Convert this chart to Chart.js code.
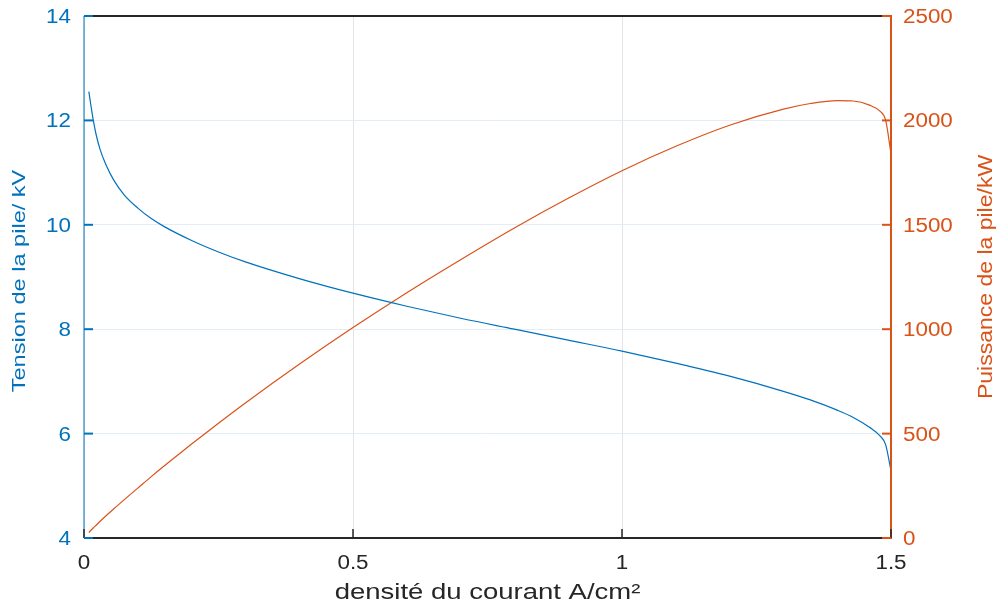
<!DOCTYPE html>
<html>
<head>
<meta charset="utf-8">
<script src="https://cdn.jsdelivr.net/npm/chart.js@4.4.0/dist/chart.umd.min.js"></script>
<style>
  body { margin: 0; background: #fff; }
  canvas { display: block; }
</style>
</head>
<body>
<canvas id="pileChart" width="996" height="605"></canvas>
<script>
// Values
const currentDensity = [0.009, 0.0125, 0.0175, 0.0225, 0.03, 0.04, 0.055, 0.075, 0.1, 0.125, 0.15,
    0.2, 0.25, 0.3, 0.4, 0.5, 0.6, 0.7, 0.8, 0.9, 1.0, 1.1, 1.2, 1.3, 1.35, 1.4, 1.43,
    1.46, 1.48, 1.49, 1.5];
const voltageKV = [12.55, 12.31, 11.99, 11.73, 11.44, 11.17, 10.86, 10.57, 10.32, 10.12, 9.96,
    9.70, 9.48, 9.29, 8.97, 8.69, 8.44, 8.21, 8.00, 7.79, 7.58, 7.35, 7.10, 6.81, 6.645, 6.45, 6.31,
    6.12, 5.95, 5.79, 5.29];
const powerKW = [26, 36, 49, 61, 80, 104, 139, 184, 239, 294, 347,
    450, 550, 647, 832, 1008, 1175, 1333, 1485, 1627, 1759, 1876, 1977, 2054, 2081, 2095, 2093,
    2073, 2043, 2001, 1841];

const xTitle = 'densité du courant A/cm²';
const leftTitle = 'Tension de la pile/ kV';
const rightTitle = 'Puissance de la pile/kW';

const BLUE = '#0072BD';
const ORANGE = '#D95319';
const DARK = '#262626';
const FONT = '"Liberation Sans", Arial, Helvetica, sans-serif';

// draw a text stretched along its own direction
function drawText(ctx, text, x, y, size, color, align, baseline, rot, sx) {
    ctx.save();
    ctx.translate(x, y);
    ctx.rotate(rot);
    ctx.scale(sx, 1);
    ctx.font = size + 'px ' + FONT;
    ctx.fillStyle = color;
    ctx.textAlign = align;
    ctx.textBaseline = baseline;
    ctx.fillText(text, 0, 0);
    ctx.restore();
}

function line(ctx, x1, y1, x2, y2, color, width) {
    ctx.beginPath();
    ctx.strokeStyle = color;
    ctx.lineWidth = width;
    ctx.moveTo(x1, y1);
    ctx.lineTo(x2, y2);
    ctx.stroke();
}

// Matlab-like box, inward ticks, labels and titles
const matlabFrame = {
    id: 'matlabFrame',
    afterDatasetsDraw(chart) {
        const ctx = chart.ctx;
        const a = chart.chartArea;
        const sx = chart.scales.x, sy = chart.scales.y, sy1 = chart.scales.y1;
        const tickLen = 9;

        line(ctx, a.left, a.top, a.right, a.top, DARK, 2);
        line(ctx, a.left, a.bottom, a.right, a.bottom, DARK, 2);
        line(ctx, a.left, a.top, a.left, a.bottom, BLUE, 1);
        line(ctx, a.right, a.top - 1, a.right, a.bottom + 1, ORANGE, 2);

        sx.ticks.forEach(t => {
            const px = sx.getPixelForValue(t.value);
            line(ctx, px, a.bottom, px, a.bottom - tickLen, DARK, 1.5);
            drawText(ctx, String(t.value), px, 569, 20, DARK, 'center', 'alphabetic', 0, 1.12);
        });
        sy.ticks.forEach(t => {
            const py = sy.getPixelForValue(t.value);
            line(ctx, a.left, py, a.left + tickLen, py, BLUE, 2);
            drawText(ctx, String(t.value), 71, py + 1.5, 20, BLUE, 'right', 'middle', 0, 1.12);
        });
        sy1.ticks.forEach(t => {
            const py = sy1.getPixelForValue(t.value);
            line(ctx, a.right - tickLen, py, a.right, py, ORANGE, 2);
            drawText(ctx, String(t.value), 903, py + 1.5, 20, ORANGE, 'left', 'middle', 0, 1.12);
        });

        drawText(ctx, xTitle, (a.left + a.right) / 2, 599, 22, DARK, 'center', 'alphabetic', 0, 1.25);
        drawText(ctx, leftTitle, 25, 281, 19, BLUE, 'center', 'alphabetic', -Math.PI / 2, 1.24);
        drawText(ctx, rightTitle, 992, 277, 20, ORANGE, 'center', 'alphabetic', -Math.PI / 2, 1.15);
    }
};

const chartConfig = {
    type: 'line',
    data: {
        labels: currentDensity,
        datasets: [
            {
                label: 'Tension',
                data: currentDensity.map((x, i) => ({ x: x, y: voltageKV[i] })),
                borderColor: BLUE,
                borderWidth: 1.2,
                pointRadius: 0,
                cubicInterpolationMode: 'monotone',
                yAxisID: 'y'
            },
            {
                label: 'Puissance',
                data: currentDensity.map((x, i) => ({ x: x, y: powerKW[i] })),
                borderColor: ORANGE,
                borderWidth: 1.2,
                pointRadius: 0,
                cubicInterpolationMode: 'monotone',
                yAxisID: 'y1'
            }
        ]
    },
    options: {
        responsive: false,
        animation: false,
        layout: { padding: { top: 16, left: 0, right: 0, bottom: 0 } },
        plugins: {
            legend: { display: false },
            tooltip: { enabled: false }
        },
        scales: {
            x: {
                type: 'linear',
                min: 0,
                max: 1.5,
                ticks: { stepSize: 0.5, display: false },
                grid: { color: '#e2e4e7', lineWidth: 1, drawTicks: false },
                border: { display: false },
                afterFit: s => { s.height = 67; }
            },
            y: {
                position: 'left',
                min: 4,
                max: 14,
                ticks: { stepSize: 2, display: false },
                grid: { color: '#e2edf5', lineWidth: 1, drawTicks: false },
                border: { display: false },
                afterFit: s => { s.width = 84; }
            },
            y1: {
                position: 'right',
                min: 0,
                max: 2500,
                ticks: { stepSize: 500, display: false },
                grid: { display: false, drawTicks: false },
                border: { display: false },
                afterFit: s => { s.width = 105; }
            }
        }
    },
    plugins: [matlabFrame]
};

const charts = {};
charts.pile = new Chart(document.getElementById('pileChart').getContext('2d'), chartConfig);
</script>
</body>
</html>
